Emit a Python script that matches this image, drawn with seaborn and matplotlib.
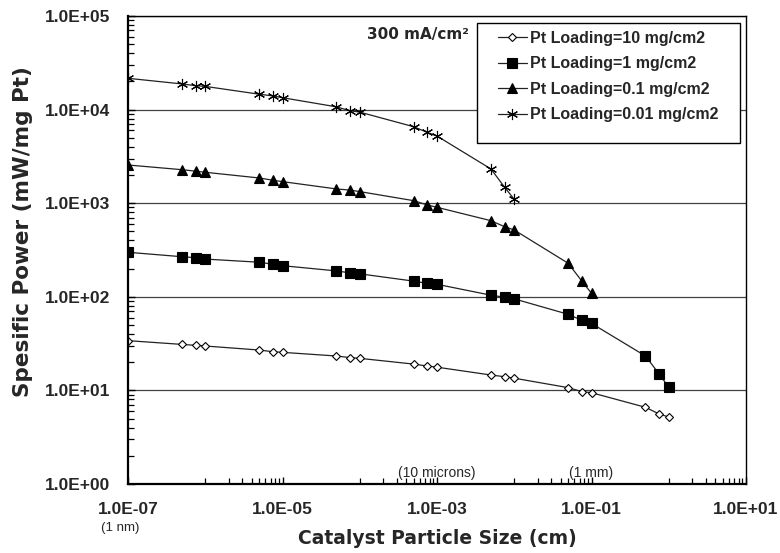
import matplotlib
matplotlib.use("Agg")
import matplotlib.pyplot as plt
import matplotlib.ticker as mticker
from matplotlib.patches import Rectangle
from matplotlib import font_manager
import seaborn as sns

# particle size in cm (same grid for every loading)
particle_size = [1e-7, 5e-7, 7.5e-7, 1e-6, 5e-6, 7.5e-6, 1e-5, 5e-5, 7.5e-5, 1e-4,
                 5e-4, 7.5e-4, 1e-3, 5e-3, 7.5e-3, 1e-2, 5e-2, 7.5e-2, 1e-1,
                 5e-1, 7.5e-1, 1.0]

# specific power, mW/mg Pt
power_10 = [34, 31, 30.3, 29.8, 27, 25.9, 25.5, 23.3, 22.4, 22, 19.1, 18.2, 17.7,
            14.6, 14.0, 13.5, 10.7, 9.7, 9.45, 6.6, 5.6, 5.2]
power_1 = [299, 268, 262, 253, 234, 223, 215, 189, 180, 176, 147, 139, 136,
           104, 99, 95, 65, 56, 52, 23.3, 15, 10.8]
power_01 = [2560, 2280, 2200, 2140, 1860, 1760, 1700, 1420, 1380, 1330, 1064, 957,
            904, 650, 561, 517, 228, 147, 109]
power_001 = [21600, 18800, 18000, 17700, 14600, 14000, 13400, 10700, 9700, 9400,
             6560, 5700, 5220, 2320, 1480, 1100]

labels = ["Pt Loading=10 mg/cm2", "Pt Loading=1 mg/cm2",
          "Pt Loading=0.1 mg/cm2", "Pt Loading=0.01 mg/cm2"]

x_major = [1e-7, 1e-5, 1e-3, 1e-1, 1e1]
y_major = [1e0, 1e1, 1e2, 1e3, 1e4, 1e5]

sns.set_theme(style="white")
plt.rcParams['font.family'] = ['Liberation Sans', 'DejaVu Sans']

names = {f.name for f in font_manager.fontManager.ttflist}
narrow = 'Liberation Sans Narrow' if 'Liberation Sans Narrow' in names else 'Liberation Sans'
wide = ['DejaVu Sans']

W, H = 780, 553
fig = plt.figure(figsize=(7.8, 5.53), dpi=100)
ax = fig.add_axes([128 / W, 1 - 484 / H, 618 / W, 468 / H])
ax.set_xscale('log')
ax.set_yscale('log')

styles = [
    (power_10, 'D', 4.5, 'white'),
    (power_1, 's', 6.5, 'black'),
    (power_01, '^', 7, 'black'),
    (power_001, (6, 2, 0), 8, 'black'),
]
for (vals, mk, ms, mfc), lab in zip(styles, labels):
    sns.lineplot(x=particle_size[:len(vals)], y=vals, ax=ax, color='#222222',
                 linewidth=0.9, marker=mk, markersize=ms, markerfacecolor=mfc,
                 markeredgecolor='black', markeredgewidth=0.8, label=lab)

ax.set_xlim(1e-7, 1e1)
ax.set_ylim(1e0, 1e5)

ax.xaxis.set_major_locator(mticker.FixedLocator(x_major))
ax.xaxis.set_minor_locator(mticker.FixedLocator(
    [k * 10 * e for e in x_major[:-1] for k in range(1, 10)]))
ax.yaxis.set_major_locator(mticker.FixedLocator(y_major))
ax.yaxis.set_minor_locator(mticker.LogLocator(base=10, subs=range(2, 10)))
fmt = mticker.FuncFormatter(lambda v, p: f"{v:.1E}")
ax.xaxis.set_major_formatter(fmt)
ax.yaxis.set_major_formatter(fmt)
ax.xaxis.set_minor_formatter(mticker.NullFormatter())
ax.yaxis.set_minor_formatter(mticker.NullFormatter())

ax.tick_params(axis='both', which='both', direction='in', color='black',
               bottom=True, left=True, top=False, right=False)
ax.tick_params(axis='both', which='major', length=5, width=1, labelsize=12.5, pad=13)
ax.tick_params(axis='both', which='minor', length=4, width=0.9)
for t in ax.get_xticklabels() + ax.get_yticklabels():
    t.set_fontweight('bold')

ax.yaxis.grid(True, which='major', color='#404040', linewidth=0.9)
ax.xaxis.grid(False)
ax.set_axisbelow(True)

for side in ['left', 'bottom']:
    ax.spines[side].set_linewidth(1.6)
for side in ['top', 'right']:
    ax.spines[side].set_linewidth(1.0)
for s in ax.spines.values():
    s.set_color('black')

ax.set_xlabel("Catalyst Particle Size (cm)", fontsize=13.5, fontweight='bold',
              family=wide)
ax.xaxis.set_label_coords(0.5, -(538 - 484) / 468)
ax.xaxis.label.set_va('center')
ax.set_ylabel("Spesific Power (mW/mg Pt)", fontsize=15.5, fontweight='bold',
              family=wide)
ax.yaxis.set_label_coords(-(128 - 23) / 618, 1 - (232 - 16) / 468)
ax.yaxis.label.set_va('center')

ax.text(1.24e-4, 6.4e4, "300 mA/cm²", fontsize=11, fontweight='bold', family=wide,
        ha='left', va='center')
ax.text(1e-3, 1.3, "(10 microns)", fontsize=10, family=narrow, ha='center', va='center')
ax.text(1e-1, 1.3, "(1 mm)", fontsize=10, family=narrow, ha='center', va='center')
fig.text(120 / W, 1 - 528 / H, "(1 nm)", fontsize=9.5, family=narrow,
         ha='center', va='center')

# legend box drawn separately so its padding matches the original
ax.add_patch(Rectangle((477 / W, 1 - 143 / H), 263 / W, 120 / H,
                       transform=fig.transFigure, facecolor='white',
                       edgecolor='black', linewidth=1.0, zorder=4))
leg = ax.legend(loc='upper left', bbox_to_anchor=((498 - 128) / 618, 1 - (31 - 16) / 468),
                frameon=False, borderpad=0, borderaxespad=0, handlelength=1.8,
                labelspacing=0.65, handletextpad=0.2,
                prop={'weight': 'bold', 'size': 11.5})
leg.set_zorder(5)

fig.savefig("out.png", dpi=100)
